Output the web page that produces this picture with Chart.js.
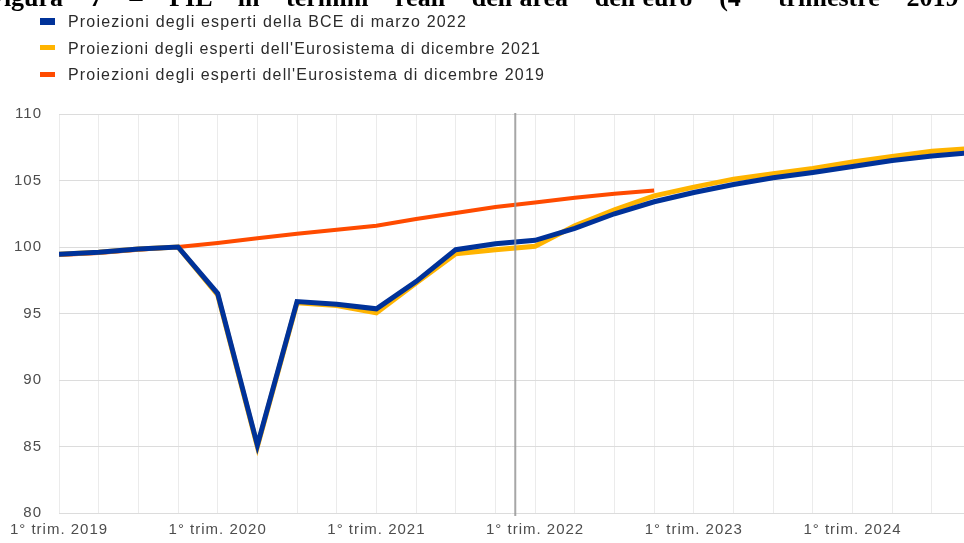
<!DOCTYPE html>
<html><head><meta charset="utf-8">
<script src="https://cdn.jsdelivr.net/npm/chart.js@4.4.1/dist/chart.umd.min.js"></script>
<style>
html,body{margin:0;padding:0;background:#fff;width:964px;height:543px;overflow:hidden;position:relative;}
#c{position:absolute;left:0;top:0;}
#title{position:absolute;left:-12px;top:-15px;font:bold 26px "Liberation Serif","Times New Roman",serif;line-height:26px;white-space:nowrap;color:#000;}
.leg{position:absolute;left:40px;height:16px;line-height:16px;white-space:nowrap;}
.leg i{position:absolute;left:0;top:5px;width:15px;height:6px;}
.leg span{position:absolute;left:28px;top:0;font:16px "Liberation Sans",Arial,sans-serif;color:#2b2b2b;}
</style></head><body>
<canvas id="c" width="964" height="543"></canvas>
<div id="title"></div>
<div id="legend"></div>
<script>
const TITLE = "Figura 7 – PIL in termini reali dell'area dell'euro (4° trimestre 2019 = 100)";
const QUARTERS = [
  "1° trim. 2019","2° trim. 2019","3° trim. 2019","4° trim. 2019",
  "1° trim. 2020","2° trim. 2020","3° trim. 2020","4° trim. 2020",
  "1° trim. 2021","2° trim. 2021","3° trim. 2021","4° trim. 2021",
  "1° trim. 2022","2° trim. 2022","3° trim. 2022","4° trim. 2022",
  "1° trim. 2023","2° trim. 2023","3° trim. 2023","4° trim. 2023",
  "1° trim. 2024","2° trim. 2024","3° trim. 2024","4° trim. 2024"
];
const SERIES_NAMES = [
  "Proiezioni degli esperti della BCE di marzo 2022",
  "Proiezioni degli esperti dell'Eurosistema di dicembre 2021",
  "Proiezioni degli esperti dell'Eurosistema di dicembre 2019"
];
const BCE_MAR_2022 = [99.45,99.6,99.85,100.0,96.5,85.1,95.9,95.7,95.35,97.4,99.8,100.25,100.5,101.4,102.5,103.4,104.1,104.7,105.2,105.6,106.05,106.5,106.85,107.1];
const EURO_DIC_2021 = [99.45,99.6,99.85,100.0,96.4,85.0,95.8,95.6,95.05,97.3,99.5,99.8,100.05,101.6,102.8,103.85,104.5,105.1,105.5,105.9,106.4,106.8,107.2,107.4];
const EURO_DIC_2019 = [99.4,99.55,99.8,100.0,100.3,100.65,101.0,101.3,101.6,102.1,102.55,103.0,103.35,103.7,104.0,104.25];
const Y_TICKS = [80,85,90,95,100,105,110];
const COLORS = ["#003299","#FFB400","#FF4B00"];
const LINE_WIDTHS = [5,5,4];
const PROJECTION_MARK = 11.5;   // between 4° trim. 2021 and 1° trim. 2022
const X_VISIBLE_MAX = 22.81;    // the picture is cut just before 4° trim. 2024

// title (cut at top and right in the reference)
(function(){
  const t = document.getElementById('title');
  const prefix = "Figura 7 – PIL in termini reali dell'area dell'euro (4° trimestre 2019";
  const cv = document.createElement('canvas').getContext('2d');
  cv.font = 'bold 26px "Liberation Serif"';
  const w = cv.measureText(prefix).width;
  const spaces = prefix.split(' ').length - 1;
  const ws = Math.max(0, (972 - w) / spaces);
  t.style.wordSpacing = ws + 'px';
  t.textContent = TITLE;
})();

// legend
(function(){
  const lg = document.getElementById('legend');
  const tops = [13, 39.5, 66];
  const heights = [7,5,5];
  const targetW = [399, 473, 477];
  const cv = document.createElement('canvas').getContext('2d');
  cv.font = '16px "Liberation Sans"';
  SERIES_NAMES.forEach((n,i)=>{
    const d = document.createElement('div');
    d.className = 'leg';
    d.style.top = tops[i] + 'px';
    const m = document.createElement('i');
    m.style.background = COLORS[i];
    m.style.height = heights[i] + 'px';
    m.style.top = (8 - heights[i]/2) + 'px';
    const s = document.createElement('span');
    s.textContent = n;
    const w = cv.measureText(n).width;
    s.style.letterSpacing = ((targetW[i] - w) / n.length) + 'px';
    d.appendChild(m); d.appendChild(s);
    lg.appendChild(d);
  });
})();

const spacingPlugin = {
  id: 'spacing',
  beforeUpdate(c){ c.ctx.letterSpacing = '1px'; },
  beforeLayout(c){ c.ctx.letterSpacing = '1px'; },
  beforeDraw(c){ c.ctx.letterSpacing = '1px'; }
};
const markPlugin = {
  id: 'mark',
  afterDatasetsDraw(c){
    const x = c.scales.x.getPixelForValue(PROJECTION_MARK);
    const ctx = c.ctx;
    ctx.save();
    ctx.strokeStyle = 'rgba(150,150,150,0.85)';
    ctx.lineWidth = 2;
    ctx.beginPath();
    ctx.moveTo(x, c.chartArea.top - 1);
    ctx.lineTo(x, c.chartArea.bottom + 3);
    ctx.stroke();
    ctx.restore();
  }
};

const toPts = arr => arr.map((v,i)=>({x:i, y:v}));
const FONT = {family:'"Liberation Sans", Arial, sans-serif', size:15};

new Chart(document.getElementById('c'), {
  type: 'line',
  data: {
    datasets: [BCE_MAR_2022, EURO_DIC_2021, EURO_DIC_2019].map((arr,i)=>({
      label: SERIES_NAMES[i],
      data: toPts(arr),
      borderColor: COLORS[i],
      backgroundColor: COLORS[i],
      borderWidth: LINE_WIDTHS[i],
      pointRadius: 0,
      tension: 0,
      fill: false,
      borderJoinStyle: 'miter'
    }))
  },
  options: {
    responsive: false,
    animation: false,
    devicePixelRatio: 1,
    layout: { padding: { top: 114, left: 0, right: 0, bottom: 0 } },
    plugins: { legend: { display: false }, tooltip: { enabled: false } },
    scales: {
      x: {
        type: 'linear', min: 0, max: X_VISIBLE_MAX,
        afterBuildTicks: s => { s.ticks = QUARTERS.slice(0, 23).map((_, i) => ({ value: i })); },
        afterFit: s => { s.height = 30; },
        ticks: {
          autoSkip: false, maxRotation: 0, minRotation: 0, padding: 8,
          color: '#4d4d4d', font: FONT,
          callback: v => (v % 4 === 0 ? QUARTERS[v] : '')
        },
        grid: { color: '#ebebeb', drawTicks: false, lineWidth: 1 },
        border: { display: false }
      },
      y: {
        min: 80, max: 110,
        afterBuildTicks: s => { s.ticks = Y_TICKS.map(v => ({ value: v })); },
        afterFit: s => { s.width = 59; },
        ticks: { padding: 17, color: '#4d4d4d', font: FONT },
        grid: { color: '#dcdcdc', drawTicks: false, lineWidth: 1 },
        border: { display: false }
      }
    }
  },
  plugins: [spacingPlugin, markPlugin]
});
</script>
</body></html>
